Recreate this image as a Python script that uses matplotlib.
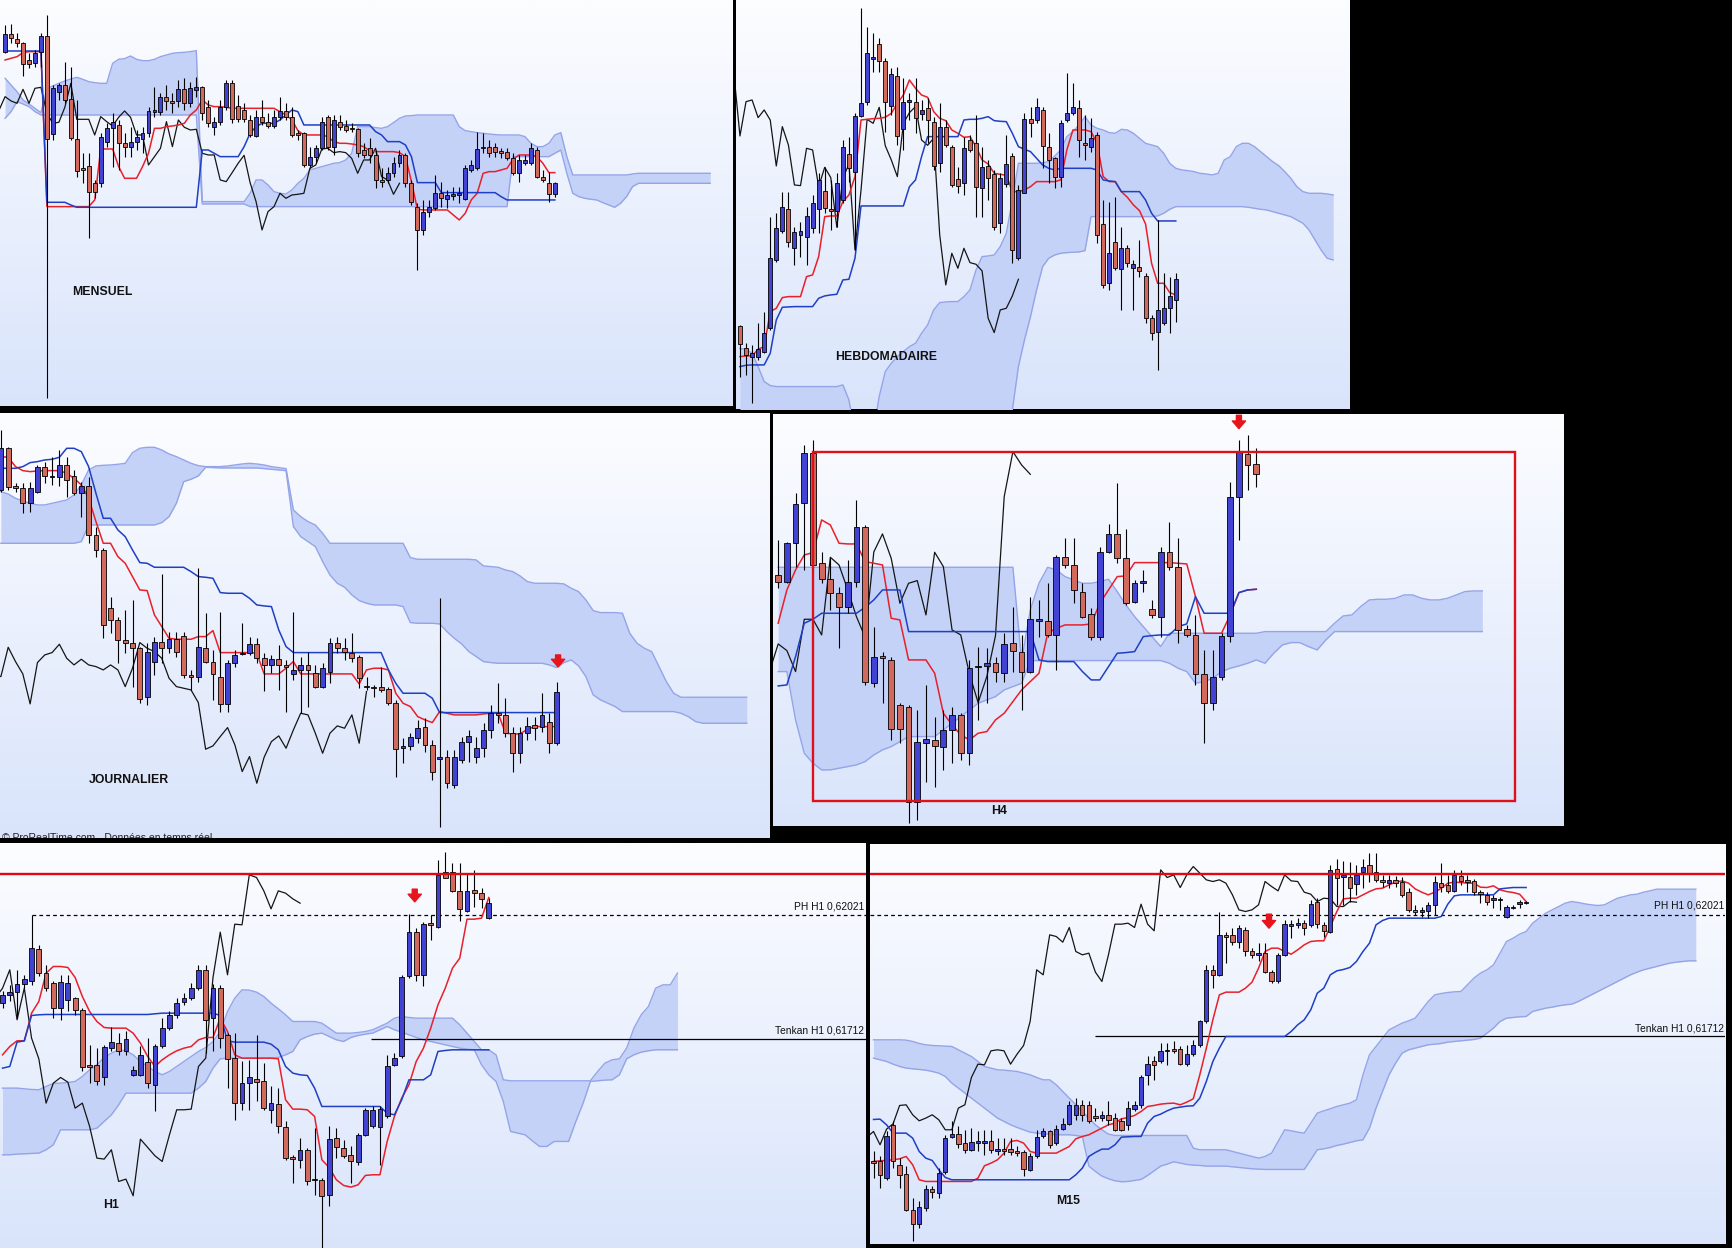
import numpy as np
import matplotlib
matplotlib.use("Agg")
import matplotlib.pyplot as plt
from matplotlib.colors import LinearSegmentedColormap
from matplotlib.patches import Rectangle
from matplotlib import font_manager as fm

# Levels are read off the screen of each panel and measured downward
# (a smaller number = a higher price); the y axes are inverted to match.
SHIFT = 26

# ---------------- MENSUEL ----------------
m_open = [155,103,118,130,180,188,155,108,403,275, 255,297,418,503,498,548,548,425,385,374,
          430,442,425,418,400,335,335,290,303,303, 268,310,270,262,322,380,367,322,250,318,
          330,360,408,350,365,378,352,333,350,400, 400,495,472,445,352,440,365,378,383,388,
          450,445,465,540,540,518,490,466,548,620, 690,637,625,580,598,587,585,597,510,505,
          440,440,442,452,455,475,520,488,488,450, 530,548,583]
m_high = [75,73,100,125,160,150,100,45,255,250, 185,200,300,460,460,540,400,370,340,360,
          400,380,390,380,320,260,280,255,280,240, 235,245,232,258,300,350,300,240,240,285,
          310,345,330,300,340,330,290,310,320,390, 395,440,435,350,345,345,345,360,370,385,
          430,415,450,505,500,470,450,460,540,610, 600,600,525,545,570,560,560,495,480,395,
          400,420,430,445,445,460,465,465,430,440, 510,515,545]
m_low = [160,130,140,228,205,200,200,1195,420,300, 310,420,530,550,715,595,560,440,500,510,
         470,470,450,460,410,350,345,330,340,320, 330,320,290,360,380,405,375,330,370,365,
         365,410,410,375,385,385,360,360,410,420, 500,505,490,450,450,465,390,395,395,470,
         475,490,565,560,550,530,500,560,615,810, 705,650,630,620,625,600,610,600,515,510,
         460,470,470,475,480,525,545,495,495,535, 545,605,590]
m_close = [103,115,130,193,193,160,108,418,263,256, 300,415,512,510,575,575,412,385,367,430,
           442,425,410,400,333,330,290,303,310,268, 310,265,262,340,370,367,322,250,358,358,
           358,405,350,365,378,352,333,352,405,405, 495,470,445,365,440,360,382,390,388,460,
           465,465,540,545,518,490,466,548,605,690, 635,620,580,595,585,583,580,505,495,447,
           445,458,455,458,475,520,480,480,445,530, 540,583,550]
m_tenkan = [180,175,170,158,155,155,155,620,620,620, 620,620,620,620,620,600,447,447,447,500,
            535,535,535,500,460,385,385,380,378,375, 370,345,330,300,315,320,320,322,325,325,
            325,325,325,325,325,325,335,345,360,392, 405,405,405,405,410,425,430,430,432,435,
            440,452,455,455,455,455,458,470,545,628, 630,630,630,630,630,645,660,640,600,580,
            520,515,515,510,505,478,465,465,465,470, 490,518,518]
m_kijun = [153,153,153,153,153,153,153,607,607,607, 607,615,622,622,622,622,622,622,622,622,
           622,622,622,622,622,622,622,622,622,622, 622,622,622,450,450,460,470,470,470,470,
           440,400,380,370,370,370,360,345,330,335, 375,375,375,375,375,375,375,375,375,375,
           375,375,395,405,425,425,425,435,470,548, 548,548,548,578,578,578,578,578,578,578,
           578,578,578,590,600,600,600,600,600,600, 600,600,600]
m_span_up = [235,255,275,300,312,325,338,265,258,250, 243,237,232,238,245,248,250,250,190,178,
             176,168,178,182,182,178,170,165,160,158, 157,155,152,605,605,605,605,605,605,605,
             605,580,540,540,555,575,580,582,570,550, 535,510,505,500,495,490,488,480,460,380,
             380,380,383,385,380,368,355,348,347,345, 345,345,345,345,345,345,380,392,395,398,
             400,402,404,405,405,405,405,410,430,440, 440,430,405,398,470,525,525,525,525,525,
             525,525,525,525,525,522,520,520,520,520, 520,520,520,520,520,520,520,520,520]
m_span_lo = [355,335,305,312,320,335,345,345,345,345, 345,345,345,345,345,345,345,345,345,345,
             345,345,345,345,345,345,345,345,345,345, 345,345,345,612,612,612,612,612,612,612,
             612,620,620,620,620,620,620,620,620,620, 620,620,620,620,620,620,620,620,620,620,
             620,620,620,620,620,620,620,620,620,620, 620,620,620,620,620,620,620,620,620,620,
             620,620,620,620,620,470,470,470,470,470, 470,470,460,450,520,580,590,595,598,600,
             608,615,622,610,590,560,550,550,550,550, 550,550,550,550,550,550,550,550,550]

# ---------------- HEBDOMADAIRE ----------------
w_open = [978,1045,1070,1072,1055,983,780,693,628,745, 705,712,685,628,573,627,633,600,462,515,
          348,305,178,133,183,318,228,388,305,305, 342,325,365,490,380,440,538,550,420,430,
          565,498,523,668,552,468,775,578,358,360, 330,442,475,532,360,338,325,430,440,405,
          673,848,727,808,745,805,800,828,955,995, 970,925,900]
w_high = [975,1030,1035,970,935,650,640,575,575,680, 665,620,585,520,500,540,520,420,410,340,
          25,80,100,115,175,205,200,235,280,235, 300,295,350,310,360,435,500,410,405,345,
          440,480,510,520,405,460,555,340,320,295, 320,400,470,360,220,250,300,345,355,395,
          600,605,590,680,735,780,720,820,945,660, 820,830,820]
w_low = [1130,1125,1210,1080,1060,990,785,700,740,795, 770,795,700,700,640,690,680,610,545,750,
         350,315,215,215,395,345,435,450,360,400, 360,430,510,515,440,560,580,585,455,650,
         650,600,690,700,560,790,780,580,410,370, 505,550,565,560,365,345,470,480,455,730,
         865,870,810,930,800,930,830,968,1020,1110, 975,1000,965]
w_close = [1033,1065,1060,1048,998,773,685,622,727,697, 693,648,610,540,625,632,548,442,503,348,
           310,160,172,183,305,222,408,305,300,353, 330,360,498,380,435,555,557,445,450,560,
           502,533,682,535,492,750,570,358,370,322, 437,480,530,370,338,320,420,436,415,705,
           855,760,805,745,788,793,813,955,998,930, 925,888,838]
w_tenkan = [1070,1068,1068,1048,1040,935,925,893,890,890, 890,830,825,770,650,648,648,605,585,530,
            360,358,356,355,352,340,310,285,240,265, 285,292,335,355,362,390,400,412,410,440,
            480,492,520,523,526,575,575,570,560,545, 545,545,545,540,450,390,390,390,395,430,
            530,545,545,575,592,615,632,672,790,850, 850,878,885]
w_kijun = [1100,1096,1095,1095,1095,1060,960,922,921,920, 920,920,920,895,888,885,883,840,838,775,
           618,618,618,618,618,618,618,618,560,540, 470,410,410,410,410,410,410,360,358,358,
           355,350,362,364,365,400,440,448,455,475, 495,505,510,505,505,505,505,505,505,510,
           540,543,545,575,575,575,575,600,640,663, 663,663,663]
w_span_up = [1046,1048,1060,1100,1145,1157,1160,1160,1160,1160, 1160,1160,1160,1160,1160,1160,1160,1155,1200,1300,
             1300,1300,1300,1190,1115,1090,1070,1055,1040,1030, 1000,975,930,908,906,905,905,890,870,810,
             770,768,765,740,700,600,490,490,490,490, 488,485,468,450,410,395,375,350,375,385,
             390,398,400,388,390,400,415,430,435,440, 460,490,505,510,512,515,520,522,525,520,
             480,470,440,430,430,440,455,470,485,497, 515,535,560,575,580,580,580,582,585]
w_span_lo = [1300,1300,1300,1300,1300,1300,1300,1300,1300,1300, 1300,1300,1300,1300,1300,1300,1300,1300,1300,1300,
             1300,1300,1300,1300,1300,1300,1300,1300,1300,1300, 1300,1300,1300,1300,1300,1300,1300,1300,1300,1300,
             1300,1300,1300,1300,1300,1230,1100,1020,950,870, 800,775,765,760,758,757,756,752,650,650,
             650,650,650,650,650,650,650,650,650,648, 640,628,620,620,620,620,620,620,620,620,
             620,620,620,620,622,625,628,630,635,640, 645,650,660,670,690,720,750,775,780]

# ---------------- JOURNALIER ----------------
d_open = [360,235,348,355,398,365,290,322,322,286, 318,368,348,495,540,715,750,810,818,835,
          980,875,815,835,808,798,915,920,835,875, 920,1002,878,852,848,823,865,885,868,885,
          912,900,885,908,950,905,818,835,850,860, 948,950,952,958,998,1135,1128,1103,1070,1125,
          1168,1160,1245,1170,1115,1160,1135,1080,1030,1035, 1090,1150,1090,1065,1072,1055,1120]
d_high = [180,230,340,340,335,285,275,260,240,260, 300,335,320,470,535,680,740,720,690,830,
          820,800,612,785,785,785,900,595,728,840, 725,870,840,760,800,805,850,855,825,870,
          725,860,845,885,880,805,800,805,790,855, 920,945,890,950,990,1105,1090,1050,1045,1110,
          685,1140,1140,1100,1080,1100,1060,1005,940,985, 1070,1070,1040,1040,970,1030,935]
d_low = [365,360,365,428,425,370,340,345,348,380, 375,440,520,560,805,790,880,850,950,1000,
         1005,915,880,850,860,925,960,935,880,990, 1025,1025,890,855,855,880,962,910,960,1025,
         930,1030,1010,955,955,940,850,870,875,955, 960,980,965,1005,1220,1180,1140,1120,1145,1230,
         1370,1255,1255,1180,1175,1180,1160,1105,1060,1100, 1205,1180,1110,1110,1085,1150,1125]
d_close = [235,350,355,398,355,290,318,318,286,330, 370,348,495,540,765,750,810,818,835,988,
           845,815,835,808,845,915,920,832,875,912, 1002,878,855,848,823,865,885,868,885,890,
           900,885,900,950,895,818,835,845,865,925, 950,955,960,998,1138,1128,1100,1073,1125,1205,
           1160,1240,1162,1115,1098,1135,1080,1030,1035,1090, 1150,1090,1068,1075,1035,1120,965]
d_tenkan = [260,262,290,302,305,303,302,302,302,310, 325,345,385,455,520,520,560,580,620,660,
            662,735,770,805,808,808,808,800,800,782, 848,848,848,848,848,850,912,912,912,895,
            875,912,912,912,912,912,912,912,912,942, 900,895,895,900,970,1000,1010,1040,1050,1058,
            1025,1030,1035,1035,1035,1035,1032,1030,1030,1090, 1092,1092,1078,1070,1070,1070,1070]
d_kijun = [295,295,295,290,278,275,270,268,262,235, 235,245,290,370,445,445,480,500,540,578,
           580,592,592,592,592,592,605,620,622,625, 668,670,670,670,685,705,708,710,780,830,
           848,848,848,848,848,848,848,848,848,848, 848,848,848,900,940,970,970,970,970,985,
           1028,1028,1028,1028,1028,1028,1028,1028,1028,1028, 1028,1028,1028,1028,1028,1028,1028]
d_span_up = [365,372,385,393,400,405,405,400,395,390, 375,345,300,288,286,285,283,280,248,235,
             232,232,240,252,260,270,280,287,290,290, 290,288,285,282,280,282,285,290,293,296,
             420,440,455,465,490,520,520,520,520,520, 520,520,520,520,520,520,563,568,568,568,
             568,568,568,568,568,570,588,590,592,600, 605,618,635,640,640,640,640,642,655,665,
             690,722,728,728,728,730,790,820,835,845, 890,935,970,982,982,982,982,982,982,982,
             982,982,982]
d_span_lo = [520,520,520,520,520,520,520,520,520,520, 520,515,465,465,465,465,465,465,465,465,
             465,465,458,440,400,335,328,318,292,293, 294,294,294,294,294,294,296,298,300,302,
             470,500,515,530,575,615,640,652,675,692, 700,705,705,705,705,710,758,760,760,760,
             762,785,805,822,845,860,875,878,880,880, 880,880,880,880,880,885,893,878,870,888,
             920,975,990,1000,1010,1025,1025,1025,1025,1025, 1025,1025,1025,1030,1040,1055,1060,1060,1060,1060,
             1060,1060,1060]

# ---------------- H4 ----------------
h4_open = [615,637,520,400,248,580,628,670,712,637, 470,940,857,870,1005,1010,1295,1118,1110,1130,
           1080,1035,1150,892,888,880,910,820,845,905, 752,752,795,560,585,665,733,800,545,492,
           565,695,640,718,742,547,590,778,795,912, 998,920,797,380,253,283]
h4_high = [510,515,370,225,210,545,565,650,570,390, 465,770,845,860,1000,1005,1020,945,1040,1020,
           1010,1030,870,830,835,860,790,710,795,680, 690,640,555,505,505,640,715,530,462,340,
           478,630,600,690,530,455,505,765,735,840, 840,790,335,210,195,235]
h4_low = [655,640,590,600,600,640,720,835,730,650, 945,950,1000,1110,1120,1360,1350,1235,1250,1200,
          1180,1170,1185,1050,1000,935,935,905,1020,910, 800,800,900,595,700,745,810,810,550,580,
          705,700,665,745,800,600,820,800,945,1120, 1020,930,815,510,360,350]
h4_close = [635,520,403,250,585,628,670,712,635,472, 935,862,865,1078,1078,1295,1115,1108,1128,1080,
            1035,1148,895,888,880,905,822,842,905,748, 748,795,562,585,660,740,802,546,492,565,
            700,640,632,735,547,590,780,795,912,998, 920,797,380,245,285,313]
h4_tenkan = [760,660,600,555,548,450,465,520,522,522, 575,580,585,745,750,870,870,870,910,1030,
             1065,1095,1110,1090,1085,1050,1030,995,960,935, 910,790,775,765,765,765,762,700,660,620,
             618,578,578,578,578,578,580,582,680,790, 790,790,735,668,660,658]
h4_kijun = [948,945,860,760,748,730,730,730,730,730, 712,690,660,660,660,785,785,785,785,785,
            785,785,785,785,785,785,785,785,785,785, 870,875,875,875,875,905,930,930,890,850,
            848,845,800,797,795,795,770,762,680,730, 730,730,730,668,660,658]
h4_span_up = [592,592,592,592,592,592,592,592,592,592, 592,592,592,592,592,592,592,592,592,592,
              592,592,592,592,592,592,592,592,872,720, 640,592,600,620,630,640,640,635,628,665,
              705,740,770,800,830,790,790,790,790,790, 790,790,790,790,790,790,785,785,785,785,
              785,785,785,785,760,738,735,710,690,688, 688,685,675,675,685,690,690,685,675,665,
              663,663]
h4_span_lo = [905,905,1050,1150,1180,1200,1200,1195,1190,1185, 1175,1155,1140,1130,1115,1100,1100,1100,1100,1080,
              1060,1040,1020,1000,990,980,960,950,940,872, 872,872,872,872,872,872,872,872,872,872,
              872,872,872,872,872,880,895,905,940,935, 925,905,895,888,880,870,880,850,825,818,
              818,830,840,810,785,785,785,785,785,785, 785,785,785,785,785,785,785,785,785,785,
              785,785]
h4_box_left, h4_box_right = 4.0, 84.8          # candle index span of the range box
h4_box_top, h4_box_bottom = 245, 1292          # range high / range low

# ---------------- H1 ----------------
h1_open = [745,722,712,688,680,583,655,685,760,735, 730,765,930,930,968,880,865,890,960,960,
           922,992,875,820,780,743,730,700,645,790, 700,842,910,1045,985,972,980,1065,1047,1117,
           1207,1215,1185,1277,1275,1320,1150,1180,1200,1223, 1140,1115,1117,1085,930,905,665,530,660,505,
           515,352,352,408,468,405,415,490]
h1_high = [710,690,645,660,481,570,630,680,660,660, 728,760,870,880,870,818,835,830,935,875,
           850,868,790,770,730,715,685,630,630,688, 690,835,835,920,915,840,925,995,1000,1100,
           1200,1150,1180,1120,1270,1115,1120,1155,1175,1135, 1060,1055,1055,900,895,660,478,520,500,480,
           315,292,325,325,355,345,398,430]
h1_low = [760,740,790,700,690,665,710,790,795,770, 780,950,985,990,990,890,900,900,965,965,
          1000,1070,880,825,790,750,735,705,895,890, 880,1000,1095,1065,1065,1040,1065,1105,1135,1215,
          1285,1240,1290,1320,1479,1353,1210,1210,1285,1230, 1145,1120,1230,1090,935,910,670,680,695,555,
          520,370,412,498,472,455,458,492]
h1_close = [722,712,688,672,580,655,700,760,683,685, 765,937,937,980,878,862,890,852,945,902,
            985,874,820,780,745,730,700,645,795,700, 850,912,1045,985,968,982,1060,1045,1115,1210,
            1213,1185,1280,1273,1323,1153,1178,1203,1220,1140, 1065,1065,1063,935,910,668,532,660,508,510,
            360,368,408,462,408,415,432,445]
h1_tenkan = [900,875,858,858,775,740,655,635,635,638, 668,725,770,800,818,820,820,820,835,865,
             905,935,915,900,888,880,875,855,848,848, 790,830,900,910,910,910,910,910,912,1035,
             1063,1063,1065,1085,1215,1238,1275,1292,1297,1290, 1262,1260,1260,1160,1085,1030,990,920,880,820,
             750,700,640,610,493,493,490,428]
h1_kijun = [940,935,862,858,782,780,779,779,779,779, 779,779,779,779,779,779,779,779,779,779,
            779,777,775,775,775,775,775,775,775,775, 782,858,862,862,862,862,862,868,885,935,
            955,960,962,1000,1055,1055,1055,1055,1055,1055, 1055,1055,1055,1075,1080,1035,975,975,975,960,
            890,887,885,885,885,885,885,885]
h1_span_up = [1000,1000,1000,1002,1004,1005,995,986,985,983, 980,965,945,930,908,895,885,888,900,920,
              935,950,960,950,935,920,905,890,878,860, 830,770,730,705,706,712,725,745,762,780,
              800,800,800,800,805,820,835,835,835,833, 830,825,815,805,790,785,788,790,790,790,
              790,790,790,810,835,860,885,885,900,975, 978,978,978,978,978,978,978,978,978,978,
              978,978,950,925,915,912,880,820,780,755, 700,690,690,655]
h1_span_lo = [1200,1200,1198,1197,1196,1195,1185,1170,1125,1125, 1125,1125,1125,1120,1100,1080,1050,1015,1015,1015,
              1015,1015,1015,1015,1015,1015,1015,1000,980,940, 912,910,910,910,910,910,910,910,908,900,
              890,855,845,838,835,845,855,860,848,842, 838,835,825,815,825,832,840,848,855,860,
              865,870,875,880,883,885,930,960,980,1040, 1130,1135,1140,1158,1175,1175,1160,1160,1160,1100,
              1045,980,978,976,975,960,912,900,892,888, 885,885,885,885]

# ---------------- M15 ----------------
m15_open = [1218,1220,1270,1110,1230,1257,1365,1407,1360,1303, 1315,1252,1147,1137,1165,1185,1165,1165,1160,1190,
            1183,1183,1190,1193,1245,1205,1145,1130,1165,1123, 1107,1080,1050,1052,1083,1090,1080,1090,1100,1110,
            1062,1050,960,920,920,890,882,883,928,898, 872,800,645,660,540,540,562,525,590,600,
            595,652,680,600,512,510,505,510,440,510, 530,343,367,365,388,350,330,352,375,385,
            375,380,410,465,470,468,450,385,390,408, 362,375,378,412,420,435,434,487,458,448, 444]
m15_high = [1190,1205,1130,1100,1210,1235,1330,1340,1290,1295, 1240,1140,1100,1115,1125,1120,1130,1125,1125,1150,
            1150,1150,1175,1185,1195,1125,1120,1125,1110,1090, 1040,1030,1035,1040,1060,1070,1040,1075,1090,1040,
            1040,960,905,905,865,865,860,875,870,855, 795,632,630,470,530,520,510,515,580,565,
            565,645,595,495,495,490,495,435,430,500, 330,312,318,320,330,312,295,295,360,360,
            362,365,400,450,455,440,362,325,360,345, 345,360,372,405,410,420,425,450,450,435, 438]
m15_low = [1270,1300,1275,1240,1300,1370,1460,1420,1370,1330, 1330,1258,1150,1180,1195,1190,1190,1200,1195,1200,
           1200,1200,1205,1265,1250,1210,1150,1180,1170,1125, 1110,1095,1100,1105,1100,1100,1110,1130,1130,1125,
           1070,1060,990,975,925,930,895,930,935,905, 878,805,700,665,625,570,580,605,610,620,
           655,685,685,605,550,520,540,515,520,545, 535,450,450,440,420,400,380,380,395,400,
           395,425,470,480,485,490,480,410,415,410, 390,410,420,445,450,460,465,490,462,458, 448]
m15_close = [1225,1260,1145,1220,1260,1365,1407,1357,1303,1313, 1255,1150,1137,1167,1185,1163,1160,1160,1185,1183,
             1190,1193,1195,1243,1205,1147,1130,1170,1123,1107, 1052,1050,1080,1098,1090,1080,1095,1125,1125,1060,
             1050,968,928,930,888,885,888,928,898,872, 800,645,660,540,545,562,518,590,600,595,
             652,680,600,508,508,505,518,448,508,528, 345,368,360,398,360,335,355,375,380,375,
             385,420,465,470,465,450,380,395,408,360, 378,380,412,418,440,430,432,455,455,440, 442]
m15_tenkan = [1220,1218,1217,1215,1212,1205,1230,1275,1280,1280, 1280,1280,1280,1280,1280,1280,1270,1233,1225,1215,
              1195,1160,1157,1165,1190,1195,1195,1195,1195,1185, 1175,1152,1145,1140,1130,1120,1110,1105,1092,1088,
              1082,1070,1055,1052,1048,1046,1045,1050,1042,1032, 960,880,795,720,712,712,712,700,682,640,
              590,580,580,590,598,585,570,560,558,558, 515,470,432,430,430,420,410,402,400,390,
              382,378,385,402,412,420,412,400,385,382, 383,385,385,397,398,393,405,410,413,418, 440]
m15_kijun = [1094,1093,1110,1135,1135,1135,1150,1190,1210,1217, 1245,1268,1275,1275,1275,1275,1275,1275,1275,1275,
             1275,1275,1275,1275,1275,1275,1275,1275,1275,1275, 1275,1260,1240,1205,1193,1183,1183,1170,1147,1146,
             1145,1145,1105,1085,1078,1068,1060,1057,1054,1053, 1030,980,920,880,845,845,845,845,845,845,
             845,845,845,845,830,810,795,765,715,700, 660,648,644,638,620,590,565,510,497,490,
             490,490,490,490,490,490,490,485,448,423, 420,420,420,420,420,420,402,400,398,398, 398]
m15_span_up = [855,855,855,855,855,856,860,866,870,872, 873,874,875,885,895,905,920,935,940,945,
               946,948,950,955,960,968,975,975,990,1010, 1030,1050,1070,1090,1110,1125,1138,1142,1142,1142,
               1142,1142,1142,1142,1142,1142,1142,1142,1142,1180, 1185,1185,1185,1185,1185,1190,1195,1200,1205,1210,
               1205,1195,1160,1125,1128,1132,1135,1105,1075,1068, 1062,1055,1050,1045,1035,960,900,875,850,825,
               815,805,798,790,765,740,720,716,713,711, 710,690,670,655,645,630,595,560,550,538,
               530,505,490,475,465,455,445,440,443,447, 450,452,450,440,430,425,420,418,412,408,
               403,403,403,403,403,403,403]
m15_span_lo = [910,915,920,928,935,940,942,944,946,950, 955,965,985,1000,1015,1030,1045,1060,1075,1090,
               1100,1110,1118,1125,1132,1135,1137,1138,1140,1140, 1140,1142,1145,1234,1250,1264,1272,1278,1281,1280,
               1277,1274,1262,1248,1234,1228,1221,1225,1229,1231, 1232,1234,1234,1234,1234,1236,1238,1240,1242,1243,
               1244,1244,1244,1244,1244,1244,1244,1215,1185,1182, 1178,1172,1168,1163,1158,1155,1120,1060,1010,960,
               925,895,885,880,875,870,868,866,862,860, 858,856,854,850,835,820,800,790,788,786,
               785,770,765,760,757,753,750,748,740,730, 720,710,700,690,680,670,660,652,645,640,
               635,630,625,622,620,618,618]

# Reference levels shared by H1 and M15
ph_level_h1, ph_level_m15 = 481, 480
ph_label = "PH H1 0,62021"
tk_level_h1, tk_level_m15 = 853, 843
tk_label = "Tenkan H1 0,61712"
res_level = 356
ph_start_h1 = 4          # candle that made the H1 high
tk_start_h1, tk_start_m15 = 50.8, 33.9

# ---------------- styling / layout ----------------
W, H = 1568.0, 1130.0
BULL, BEAR = '#4343d3', '#d2695d'
TENKAN_C, KIJUN_C, CHIKOU_C = '#e8202a', '#1f3fc4', '#151515'
CLOUD_FILL, CLOUD_EDGE = '#c4d2f7', '#95a4e8'
ARROW_C = '#e8141c'
bg_cmap = LinearSegmentedColormap.from_list('bg', ['#fcfdff', '#d9e4fb'])

def _has_font(name):
    try:
        fm.findfont(fm.FontProperties(family=name), fallback_to_default=False)
        return True
    except Exception:
        return False

if _has_font('Liberation Sans Narrow'):
    NARROW, NARROW_SIZE = 'Liberation Sans Narrow', 9.0
else:
    NARROW, NARROW_SIZE = 'Liberation Sans', 7.4
TITLE_FONT = 'Liberation Sans' if _has_font('Liberation Sans') else 'DejaVu Sans'

fig = plt.figure(figsize=(17.32, 12.48), dpi=100, facecolor='black')


def panel(rect, x0, dx, y0, ys=3.314):
    L, T, R, B = rect
    ax = fig.add_axes([L / W, 1 - B / H, (R - L) / W, (B - T) / H])
    xl = ((L - x0) / dx, (R - x0) / dx)
    yl = ((B - y0) * ys, (T - y0) * ys)
    grad = np.linspace(0, 1, 256).reshape(-1, 1)
    ax.imshow(grad, cmap=bg_cmap, aspect='auto', origin='upper',
              extent=(xl[0], xl[1], yl[0], yl[1]), zorder=0, interpolation='bilinear')
    ax.set_xlim(*xl)
    ax.set_ylim(*yl)
    ax.set_axis_off()
    return ax


def ichimoku(ax, tenkan, kijun, close, span_up, span_lo):
    xs = np.arange(len(span_up))
    ax.fill_between(xs, span_up, span_lo, color=CLOUD_FILL, lw=0, zorder=1)
    ax.plot(xs, span_up, color=CLOUD_EDGE, lw=1.0, zorder=1.5)
    ax.plot(xs, span_lo, color=CLOUD_EDGE, lw=1.0, zorder=1.5)
    ax.plot(np.arange(len(close)) - SHIFT, close, color=CHIKOU_C, lw=0.9, zorder=2)
    ax.plot(np.arange(len(tenkan)), tenkan, color=TENKAN_C, lw=1.1, zorder=3)
    ax.plot(np.arange(len(kijun)), kijun, color=KIJUN_C, lw=1.1, zorder=3.1)


def candles(ax, o, h, l, c, width=0.66):
    o, h, l, c = (np.asarray(a, dtype=float) for a in (o, h, l, c))
    x = np.arange(len(o))
    ax.vlines(x, h, l, color='black', lw=0.8, zorder=4)
    lo = np.minimum(o, c)
    hi = np.maximum(o, c)
    cols = np.where(c < o, BULL, BEAR)
    ax.bar(x, np.maximum(hi - lo, 3.0), bottom=lo, width=width, color=cols,
           edgecolor='black', linewidth=0.6, zorder=5)


def down_arrow(ax, x, y_tail, y_tip):
    ax.annotate('', xy=(x, y_tip), xytext=(x, y_tail), zorder=8,
                arrowprops=dict(facecolor=ARROW_C, edgecolor=ARROW_C, width=3.6,
                                headwidth=9.5, headlength=5.5, shrink=0))


def label(x, y, s, **kw):
    fig.text(x / W, 1 - y / H, s, va='center', **kw)


# ---- MENSUEL
ax1 = panel((0, 0, 663, 367.6), 4.6, 5.41, 0)
ichimoku(ax1, m_tenkan, m_kijun, m_close, m_span_up, m_span_lo)
candles(ax1, m_open, m_high, m_low, m_close)

# ---- HEBDOMADAIRE
ax2 = panel((666.5, 0, 1222, 370.3), 669.9, 5.48, 0)
ichimoku(ax2, w_tenkan, w_kijun, w_close, w_span_up, w_span_lo)
candles(ax2, w_open, w_high, w_low, w_close)

# ---- JOURNALIER
ax3 = panel((0, 374, 696.3, 759), 0.8, 6.62, 335)
ichimoku(ax3, d_tenkan, d_kijun, d_close, d_span_up, d_span_lo)
candles(ax3, d_open, d_high, d_low, d_close)
down_arrow(ax3, 76.2, 855, 891)
t = ax3.text(0.002, 0.0, "\u00a9 ProRealTime.com - Donn\u00e9es en temps r\u00e9el",
             transform=ax3.transAxes, fontsize=7.5, family=TITLE_FONT, color='#222222',
             ha='left', va='center', zorder=9)
t.set_clip_on(True)
t.set_clip_box(ax3.bbox)

# ---- H4
ax4 = panel((700, 374.5, 1416, 747.8), 704.5, 7.87, 335)
ichimoku(ax4, h4_tenkan, h4_kijun, h4_close, h4_span_up, h4_span_lo)
candles(ax4, h4_open, h4_high, h4_low, h4_close)
ax4.add_patch(Rectangle((h4_box_left, h4_box_top), h4_box_right - h4_box_left,
                        h4_box_bottom - h4_box_top, fill=False, ec='#e0101a', lw=1.7, zorder=6))
down_arrow(ax4, 53, 136, 176)

# ---- H1
ax5 = panel((0, 763.5, 784, 1130), 2.3, 6.57, 683.5)
ichimoku(ax5, h1_tenkan, h1_kijun, h1_close, h1_span_up, h1_span_lo)
xr5 = ax5.get_xlim()[1]
ax5.axhline(res_level, color='#e30613', lw=1.7, zorder=6)
ax5.hlines(ph_level_h1, ph_start_h1, xr5, colors='black', lw=0.9,
           linestyles=(0, (3, 2.5)), zorder=2.5)
ax5.hlines(tk_level_h1, tk_start_h1, xr5, colors='black', lw=0.9, zorder=2.5)
candles(ax5, h1_open, h1_high, h1_low, h1_close)
down_arrow(ax5, 56.8, 403, 441)

# ---- M15
ax6 = panel((787.5, 764, 1562, 1126.5), 790.8, 5.908, 683.5)
ichimoku(ax6, m15_tenkan, m15_kijun, m15_close, m15_span_up, m15_span_lo)
xl6 = ax6.get_xlim()
ax6.axhline(res_level, color='#e30613', lw=1.7, zorder=6)
ax6.hlines(ph_level_m15, xl6[0], xl6[1], colors='black', lw=0.9,
           linestyles=(0, (3, 2.5)), zorder=2.5)
ax6.hlines(tk_level_m15, tk_start_m15, xl6[1], colors='black', lw=0.9, zorder=2.5)
candles(ax6, m15_open, m15_high, m15_low, m15_close)
down_arrow(ax6, 60.6, 478, 520)

# ---- labels
tkw = dict(fontsize=8.8, fontweight='bold', family=TITLE_FONT, color='#111111', ha='left')
label(65, 264, "MENSUEL", **tkw)
label(756, 323, "HEBDOMADAIRE", **tkw)
label(80, 706, "JOURNALIER", **tkw)
label(897, 734, "H4", **tkw)
label(93, 1091, "H1", **tkw)
label(956, 1087, "M15", **tkw)

nkw = dict(fontsize=NARROW_SIZE, family=NARROW, color='#111111', ha='right')
label(782, 821, ph_label, **nkw)
label(782, 933, tk_label, **nkw)
label(1561, 820, ph_label, **nkw)
label(1561, 931, tk_label, **nkw)

fig.savefig('out.png', dpi=100, facecolor='black')
